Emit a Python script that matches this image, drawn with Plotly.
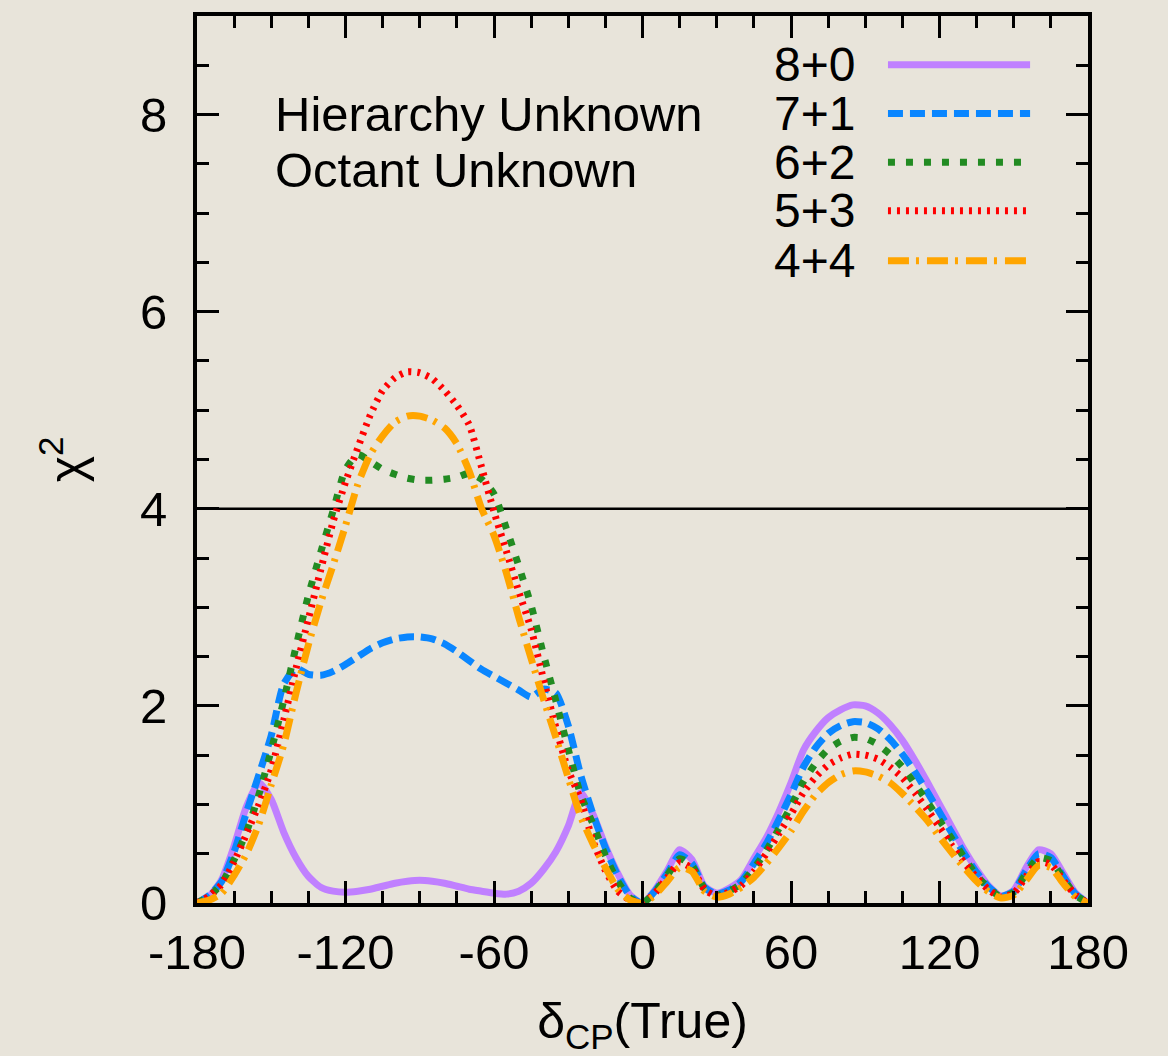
import plotly.graph_objects as go

# ---------------- data ----------------
delta_cp = list(range(-180, 181, 5))

chi2_8p0 = [0.0, 0.07, 0.24, 0.58, 0.98, 1.22, 1.05, 0.72, 0.46, 0.27, 0.16, 0.12, 0.11, 0.12, 0.14, 0.17,
            0.20, 0.22, 0.23, 0.22, 0.20, 0.17, 0.14, 0.12, 0.10, 0.09, 0.12, 0.20, 0.34, 0.52, 0.78, 1.12,
            0.90, 0.58, 0.30, 0.08, 0.0, 0.13, 0.33, 0.54, 0.44, 0.17, 0.10, 0.15, 0.24, 0.45, 0.66, 0.92,
            1.22, 1.55, 1.74, 1.88, 1.96, 2.01, 2.00, 1.93, 1.81, 1.65, 1.45, 1.23, 1.00, 0.77, 0.54, 0.34,
            0.17, 0.07, 0.13, 0.36, 0.54, 0.50, 0.30, 0.10, 0.0]

chi2_7p1 = [0.0, 0.08, 0.22, 0.52, 0.92, 1.30, 1.70, 2.22, 2.38, 2.32, 2.31, 2.35, 2.42, 2.50, 2.58, 2.64,
            2.68, 2.70, 2.70, 2.68, 2.63, 2.55, 2.46, 2.37, 2.30, 2.23, 2.16, 2.09, 2.17, 2.13, 1.80, 1.30,
            0.90, 0.56, 0.28, 0.07, 0.0, 0.12, 0.30, 0.49, 0.40, 0.16, 0.09, 0.13, 0.22, 0.40, 0.60, 0.84,
            1.10, 1.38, 1.58, 1.72, 1.80, 1.84, 1.83, 1.77, 1.66, 1.51, 1.33, 1.13, 0.92, 0.71, 0.50, 0.31,
            0.16, 0.07, 0.12, 0.33, 0.50, 0.46, 0.27, 0.09, 0.0]

chi2_6p2 = [0.0, 0.07, 0.20, 0.44, 0.72, 1.10, 1.55, 2.05, 2.60, 3.12, 3.56, 3.98, 4.40, 4.55, 4.48, 4.40,
            4.35, 4.31, 4.29, 4.29, 4.30, 4.32, 4.36, 4.30, 4.15, 3.80, 3.42, 3.02, 2.52, 2.05, 1.56, 1.10,
            0.80, 0.48, 0.22, 0.05, 0.0, 0.11, 0.28, 0.45, 0.38, 0.15, 0.08, 0.12, 0.20, 0.35, 0.53, 0.75,
            0.98, 1.23, 1.42, 1.56, 1.64, 1.68, 1.67, 1.61, 1.51, 1.38, 1.21, 1.03, 0.84, 0.65, 0.46, 0.28,
            0.15, 0.06, 0.11, 0.30, 0.46, 0.43, 0.25, 0.08, 0.0]

chi2_5p3 = [0.0, 0.07, 0.19, 0.42, 0.70, 1.00, 1.35, 1.85, 2.38, 2.88, 3.38, 3.87, 4.27, 4.62, 4.95, 5.20,
            5.33, 5.39, 5.38, 5.32, 5.20, 5.05, 4.85, 4.42, 3.97, 3.57, 3.16, 2.78, 2.27, 1.78, 1.35, 1.05,
            0.63, 0.33, 0.12, 0.03, 0.0, 0.10, 0.26, 0.41, 0.35, 0.14, 0.07, 0.11, 0.18, 0.32, 0.50, 0.70,
            0.90, 1.12, 1.28, 1.40, 1.47, 1.51, 1.50, 1.46, 1.38, 1.27, 1.12, 0.95, 0.77, 0.58, 0.41, 0.26,
            0.13, 0.06, 0.10, 0.27, 0.42, 0.39, 0.23, 0.08, 0.0]

chi2_4p4 = [0.0, 0.03, 0.10, 0.28, 0.50, 0.80, 1.20, 1.60, 2.13, 2.62, 3.05, 3.43, 3.83, 4.25, 4.55, 4.74,
            4.88, 4.94, 4.94, 4.90, 4.82, 4.66, 4.38, 4.00, 3.73, 3.35, 2.90, 2.48, 2.07, 1.68, 1.27, 0.88,
            0.60, 0.36, 0.14, 0.03, 0.0, 0.08, 0.22, 0.36, 0.32, 0.12, 0.06, 0.09, 0.16, 0.26, 0.40, 0.56,
            0.73, 0.93, 1.10, 1.22, 1.30, 1.34, 1.33, 1.29, 1.22, 1.11, 0.98, 0.84, 0.67, 0.51, 0.36, 0.22,
            0.11, 0.05, 0.08, 0.23, 0.38, 0.36, 0.20, 0.06, 0.0]

series_names = ["8+0", "7+1", "6+2", "5+3", "4+4"]
series_values = [chi2_8p0, chi2_7p1, chi2_6p2, chi2_5p3, chi2_4p4]
x_tick_vals = [-180, -120, -60, 0, 60, 120, 180]
y_tick_vals = [0, 2, 4, 6, 8]
threshold = 4

# ---------------- styles ----------------
colors = ["#c080ff", "#0a86ff", "#228b22", "#ff0000", "#ffa500"]
dashes = ["solid", "15px,7px", "7px,11px", "3px,6px", "21px,7px,3px,8px"]
widths = [7, 7, 7, 7, 7]

FONT = "Liberation Sans, Arial, Helvetica, sans-serif"
TICK_FS = 49
LEG_FS = 48
TXT_FS = 49
TITLE_FS = 50

fig = go.Figure()
for name, vals, c, d, w in zip(series_names, series_values, colors, dashes, widths):
    fig.add_trace(go.Scatter(x=delta_cp, y=vals, mode="lines", name=name,
                             line=dict(color=c, dash=d, width=w, shape="spline", smoothing=0.6),
                             showlegend=False))

# threshold line
fig.add_shape(type="line", xref="paper", x0=0, x1=1, yref="y", y0=threshold, y1=threshold,
              line=dict(color="black", width=2.5), layer="below")

# manual legend (text left of sample)
row_y = [0.9451, 0.8901, 0.8352, 0.7803, 0.7242]
for name, c, d, w, yy in zip(series_names, colors, dashes, widths, row_y):
    fig.add_annotation(xref="paper", yref="paper", x=0.7407, y=yy, text=name, showarrow=False,
                       xanchor="right", yanchor="middle", font=dict(family=FONT, size=LEG_FS, color="black"))
    fig.add_shape(type="line", xref="paper", yref="paper", x0=0.7755, x1=0.935, y0=yy, y1=yy,
                  line=dict(color=c, dash=d, width=w))

fig.add_annotation(xref="paper", yref="paper", x=0.0853, y=0.889, text="Hierarchy Unknown",
                   showarrow=False, xanchor="left", yanchor="middle",
                   font=dict(family=FONT, size=TXT_FS, color="black"))
fig.add_annotation(xref="paper", yref="paper", x=0.0853, y=0.826, text="Octant Unknown",
                   showarrow=False, xanchor="left", yanchor="middle",
                   font=dict(family=FONT, size=TXT_FS, color="black"))

axis_common = dict(showgrid=False, zeroline=False, showline=True, linecolor="black", linewidth=4,
                   mirror="ticks", ticks="inside", ticklen=22, tickwidth=3, tickcolor="black",
                   tickfont=dict(family=FONT, size=TICK_FS, color="black"))

fig.update_xaxes(range=[-180, 180], tickvals=x_tick_vals, ticktext=[str(v) for v in x_tick_vals],
                 minor=dict(dtick=15, tick0=-180, ticks="inside", ticklen=12, tickwidth=3, tickcolor="black"),
                 ticklabelstandoff=3,
                 title=dict(text="δ<sub>CP</sub>(True)", font=dict(family=FONT, size=TITLE_FS, color="black"),
                            standoff=30),
                 **axis_common)
fig.update_yaxes(range=[0, 9], tickvals=y_tick_vals, ticktext=[str(v) for v in y_tick_vals],
                 minor=dict(dtick=0.5, tick0=0, ticks="inside", ticklen=12, tickwidth=3, tickcolor="black"),
                 ticklabelstandoff=16,
                 title=dict(text="χ<sup>2</sup>", font=dict(family=FONT, size=TITLE_FS, color="black"),
                            standoff=40),
                 **axis_common)

fig.update_layout(width=1168, height=1056, margin=dict(l=197, r=80, t=12, b=152),
                  paper_bgcolor="#e8e4da", plot_bgcolor="rgba(0,0,0,0)",
                  font=dict(family=FONT, size=TICK_FS, color="black"))

fig.write_html("out.html")
